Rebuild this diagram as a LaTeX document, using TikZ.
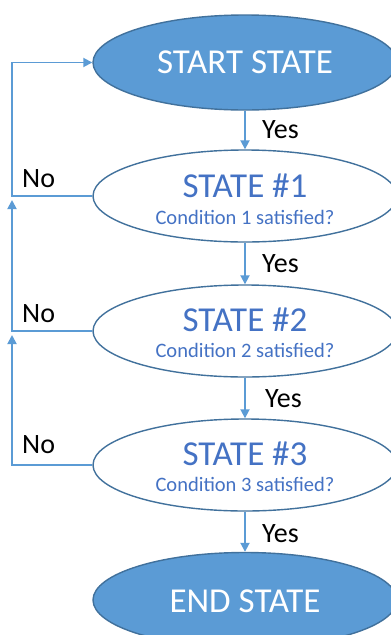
\documentclass[tikz,border=0pt]{standalone}
\usepackage{fontspec}
\setmainfont{Carlito}
\usetikzlibrary{shapes.geometric,arrows.meta}
\definecolor{fillblue}{HTML}{5B9BD5}
\definecolor{edgeblue}{HTML}{41719C}
\definecolor{textblue}{HTML}{4472C4}
\begin{document}
\begin{tikzpicture}[x=1pt,y=1pt,
  term/.style={ellipse,draw=edgeblue,fill=fillblue,line width=1.4pt,minimum width=304pt,minimum height=95pt,inner sep=0pt},
  stbox/.style={ellipse,draw=edgeblue,fill=white,line width=1.4pt,minimum width=304pt,minimum height=92pt,inner sep=0pt},
  conn/.style={draw=fillblue,line width=1.8pt,-{Triangle[length=9pt,width=9pt]}},
  lbl/.style={font=\fontsize{28}{32}\selectfont,text=black,inner sep=0pt,anchor=base west},
  bigw/.style={font=\fontsize{35}{40}\selectfont,text=white,inner sep=0pt,anchor=base},
  bigb/.style={font=\fontsize{35}{40}\selectfont,text=textblue,inner sep=0pt,anchor=base},
  small/.style={font=\fontsize{20.5}{24}\selectfont,text=textblue,inner sep=0pt,anchor=base}]
\clip (0,0) rectangle (391,-635);
\useasboundingbox (0,0) rectangle (391,-635);
\fill[white] (0,0) rectangle (391,-635);
% ellipses
\node[term]  (start) at (245,-62.5) {};
\node[stbox] (s1)    at (245,-196) {};
\node[stbox] (s2)    at (245,-331) {};
\node[stbox] (s3)    at (245,-465) {};
\node[term]  (end)   at (245,-600) {};
% texts
\node[bigw]  (tstart) at (245,-73.5) {START STATE};
\node[bigb]  (t1)  at (245,-197) {STATE \#1};
\node[small] (c1)  at (245,-224) {Condition 1 satisfied?};
\node[bigb]  (t2)  at (245,-331) {STATE \#2};
\node[small] (c2)  at (245,-357) {Condition 2 satisfied?};
\node[bigb]  (t3)  at (245,-465) {STATE \#3};
\node[small] (c3)  at (245,-491) {Condition 3 satisfied?};
\node[bigw]  (tend) at (245,-612) {END STATE};
% yes arrows
\draw[conn] (start.south) -- (s1.north);
\draw[conn] (s1.south) -- (s2.north);
\draw[conn] (s2.south) -- (s3.north);
\draw[conn] (s3.south) -- (end.north);
\node[lbl] (y1) at (262,-138) {Yes};
\node[lbl] (y2) at (262,-272) {Yes};
\node[lbl] (y3) at (265,-407) {Yes};
\node[lbl] (y4) at (262,-542) {Yes};
% no loops
\coordinate (ftop) at (12,-62.5);
\coordinate (f1) at (12,-200);
\coordinate (f2) at (12,-335);
\draw[conn] (s1.west) -| (ftop) -- (start.west);
\draw[conn] (s2.west) -| (f1);
\draw[conn] (s3.west) -| (f2);
\node[lbl] (n1) at (22,-187) {No};
\node[lbl] (n2) at (22,-322) {No};
\node[lbl] (n3) at (22,-453) {No};
\end{tikzpicture}
\end{document}
